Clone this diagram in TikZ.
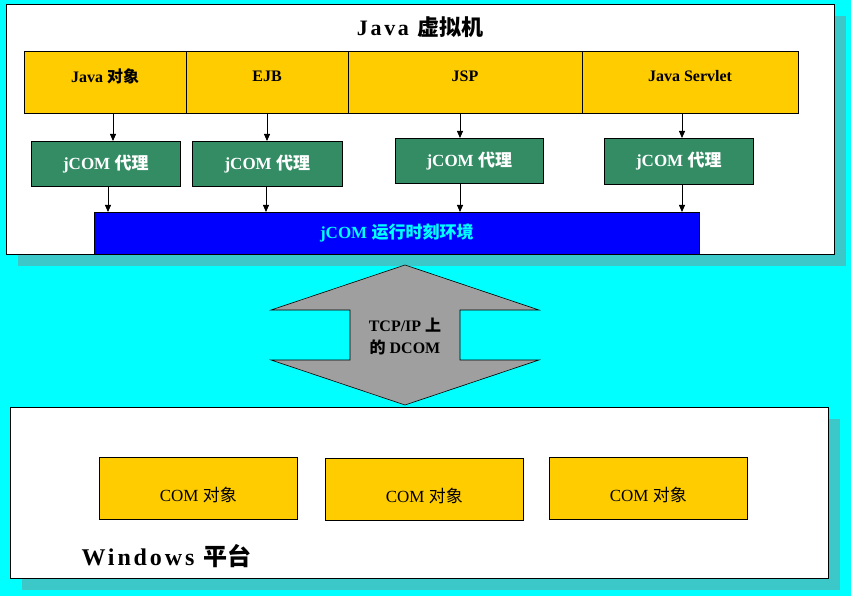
\documentclass[tikz,border=0pt]{standalone}
\usepackage{fontspec}
\setmainfont{Liberation Serif}
\newfontfamily\cjk{Noto Sans CJK SC}
\usetikzlibrary{arrows.meta}
\definecolor{cyanbg}{RGB}{0,255,255}
\definecolor{shad}{RGB}{60,200,200}
\definecolor{yel}{RGB}{255,204,0}
\definecolor{grn}{RGB}{51,140,100}
\definecolor{blu}{RGB}{0,0,255}
\tikzset{
 box/.style={draw=black,line width=0.6pt,anchor=north west,inner sep=0pt},
 ycell/.style={box,fill=yel,font=\bfseries\fontsize{16}{18}\selectfont},
 gcell/.style={box,fill=grn,text=white,font=\bfseries\fontsize{17}{19}\selectfont},
 arr/.style={-{Triangle[length=7pt,width=6pt]},line width=0.8pt}
}
\begin{document}
\begin{tikzpicture}[x=1pt,y=-1pt]
\fill[cyanbg] (0,0) rectangle (851,596);
\useasboundingbox (0,0) rectangle (851,596);
% top box
\fill[shad] (18,16) rectangle (846,266);
\node[box,fill=white,minimum width=828,minimum height=250] (top) at (6,4) {};
\node[font=\bfseries\fontsize{22}{24}\selectfont] (title) at (420,27) {\addfontfeature{LetterSpace=12}Java {\cjk 虚拟机}};
% yellow row
\node[ycell,minimum width=162,minimum height=62] (y1) at (24,51) {};
\node[ycell,minimum width=162,minimum height=62] (y2) at (186,51) {};
\node[ycell,minimum width=234,minimum height=62] (y3) at (348,51) {};
\node[ycell,minimum width=216,minimum height=62] (y4) at (582,51) {};
\node[font=\bfseries\fontsize{16}{18}\selectfont] at (105,76) {Java {\cjk 对象}};
\node[font=\bfseries\fontsize{16}{18}\selectfont] at (267,76) {EJB};
\node[font=\bfseries\fontsize{16}{18}\selectfont] at (465,76) {JSP};
\node[font=\bfseries\fontsize{16}{18}\selectfont] at (690,76) {Java Servlet};
% green
\node[gcell,minimum width=149,minimum height=45] (g1) at (31,141) {};
\node[gcell,minimum width=150,minimum height=45] (g2) at (192,141) {};
\node[gcell,minimum width=148,minimum height=45] (g3) at (395,138) {};
\node[gcell,minimum width=149,minimum height=46] (g4) at (604,138) {};
\foreach \g in {g1,g2,g3,g4}
  \node[text=white,font=\bfseries\fontsize{17}{19}\selectfont] at (\g.center) {jCOM {\cjk 代理}};
% blue
\node[box,fill=blu,minimum width=605,minimum height=42] (rt) at (94,212) {};
\node[text=cyanbg,font=\bfseries\fontsize{17}{19}\selectfont] at (rt.center) {jCOM {\cjk 运行时刻环境}};
% arrows
\draw[arr] (y1.south -| 113,0) -- (g1.north -| 113,0);
\draw[arr] (y2.south -| 267,0) -- (g2.north -| 267,0);
\draw[arr] (y3.south -| 460,0) -- (g3.north -| 460,0);
\draw[arr] (y4.south -| 682,0) -- (g4.north -| 682,0);
\draw[arr] (g1.south -| 108,0) -- (rt.north -| 108,0);
\draw[arr] (g2.south -| 266,0) -- (rt.north -| 266,0);
\draw[arr] (g3.south -| 460,0) -- (rt.north -| 460,0);
\draw[arr] (g4.south -| 682,0) -- (rt.north -| 682,0);
% double arrow
\draw[fill=gray!75,line width=0.6pt] (405,265) -- (539,310) -- (460,310) -- (460,360) -- (539,360) -- (405,405) -- (271,360) -- (350,360) -- (350,310) -- (271,310) -- cycle;
\node[align=center,font=\bfseries\fontsize{16}{22}\selectfont] (tcp) at (405,336) {TCP/IP {\cjk 上}\\{\cjk 的} DCOM};
% bottom box
\fill[shad] (22,419) rectangle (840,590);
\node[box,fill=white,minimum width=818,minimum height=171] (bot) at (10,407) {};
\node[ycell,minimum width=198,minimum height=62] (c1) at (99,457) {};
\node[ycell,minimum width=198,minimum height=62] (c2) at (325,458) {};
\node[ycell,minimum width=198,minimum height=62] (c3) at (549,457) {};
\foreach \c in {c1,c2,c3}
  \node[font=\fontsize{17}{19}\selectfont] at ([yshift=-7]\c.center) {COM {\cjk 对象}};
\node[font=\bfseries\fontsize{24}{26}\selectfont,anchor=west] (win) at (78,556) {\addfontfeature{LetterSpace=12}Windows {\cjk 平台}};
\end{tikzpicture}
\end{document}
